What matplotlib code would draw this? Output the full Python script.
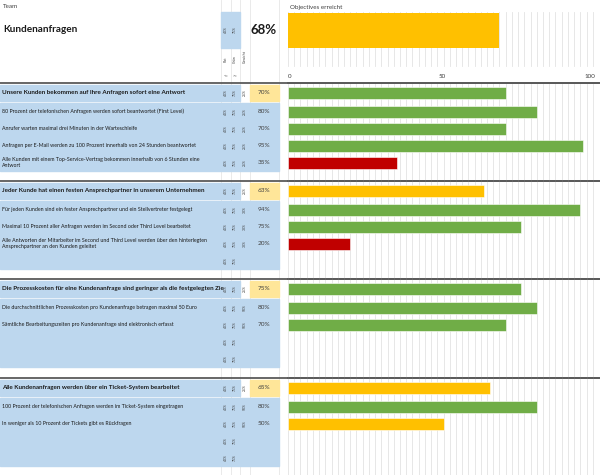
import matplotlib.pyplot as plt
import numpy as np

plt.rcParams['font.family'] = ['Lato', 'DejaVu Sans']

team = "Kundenanfragen"
total = 68
red_limit = "40%"
green_limit = "75%"

group_titles = [
    "Unsere Kunden bekommen auf Ihre Anfragen sofort eine Antwort",
    "Jeder Kunde hat einen festen Ansprechpartner in unserem Unternehmen",
    "Die Prozesskosten für eine Kundenanfrage sind geringer als die festgelegten Zie",
    "Alle Kundenanfragen werden über ein Ticket-System bearbeitet",
]
group_values = [70, 63, 75, 65]
group_status = ["g", "o", "g", "o"]
group_weight = "25%"

item_texts = [
    ["80 Prozent der telefonischen Anfragen werden sofort beantwortet (First Level)",
     "Anrufer warten maximal drei Minuten in der Warteschleife",
     "Anfragen per E-Mail werden zu 100 Prozent innerhalb von 24 Stunden beantwortet",
     "Alle Kunden mit einem Top-Service-Vertrag bekommen innerhalb von 6 Stunden eine\nAntwort"],
    ["Für jeden Kunden sind ein fester Ansprechpartner und ein Stellvertreter festgelegt",
     "Maximal 10 Prozent aller Anfragen werden im Second oder Third Level bearbeitet",
     "Alle Antworten der Mitarbeiter im Second und Third Level werden über den hinterlegten\nAnsprechpartner an den Kunden geleitet"],
    ["Die durchschnittlichen Prozesskosten pro Kundenanfrage betragen maximal 50 Euro",
     "Sämtliche Bearbeitungszeiten pro Kundenanfrage sind elektronisch erfasst"],
    ["100 Prozent der telefonischen Anfragen werden im Ticket-System eingetragen",
     "In weniger als 10 Prozent der Tickets gibt es Rückfragen"],
]
item_values = [[80, 70, 95, 35], [94, 75, 20], [80, 70], [80, 50]]
item_status = [["g", "g", "g", "r"], ["g", "g", "r"], ["g", "g"], ["g", "o"]]
item_weights = ["25%", "33%", "50%", "50%"]
rows_per_group = 4

colors = {"g": "#70AD47", "o": "#FFC000", "r": "#C00000"}
blue = "#BDD7EE"
yellow = "#FFE699"
sep_y = [83, 181, 279, 378]

fig = plt.figure(figsize=(6, 4.75), dpi=100)
bg = fig.add_axes([0, 0, 1, 1])
bg.set_xlim(0, 600)
bg.set_ylim(475, 0)
bg.axis('off')

ax = fig.add_axes([288 / 600, 0, 311 / 600, 1])
ax.set_xlim(0, 100)
ax.set_ylim(475, 0)
ax.axis('off')
ax.patch.set_alpha(0)

# faint cell borders / grid
for x in [221, 230.5, 240, 249.5, 278.5]:
    bg.plot([x, x], [0, 475], color="#E6E6E6", lw=0.6, zorder=0)
for gx in np.arange(0, 101, 2):
    ax.plot([gx, gx], [12, 66], color="#E3E3E3", lw=0.6, zorder=0)
    ax.plot([gx, gx], [84, 475], color="#E3E3E3", lw=0.6, zorder=0)

# header
bg.text(3, 7, "Team", fontsize=4.5, color="#404040", va='center')
bg.text(3, 30, team, fontsize=7.2, fontweight='bold', color="#1a1a1a", va='center')
bg.add_patch(plt.Rectangle((221, 12), 19, 36, color=blue, zorder=1))
small = dict(fontsize=2.5, rotation=90, color="#404040", ha='center', va='center', zorder=3)
bg.text(226, 30, red_limit, **small)
bg.text(235, 30, green_limit, **small)
bg.text(226, 59, "Rot", **small)
bg.text(235, 59, "Grün", **small)
bg.text(245, 57, "Gewicht", **small)
bg.text(226, 75, "<=", fontsize=3, color="#404040", ha='center', va='center')
bg.text(235, 75, ">=", fontsize=3, color="#404040", ha='center', va='center')
bg.text(264, 30, f"{total}%", fontsize=9.5, fontweight='bold', color="#1a1a1a",
        ha='center', va='center')
bg.text(290, 7, "Objectives erreicht", fontsize=4.5, color="#404040", va='center')

ax.barh(30, total, height=35, color=colors["o"], zorder=2)
ax.text(0.5, 76, "0", fontsize=4.5, color="#404040", ha='center', va='center')
ax.text(49.5, 76, "50", fontsize=4.5, color="#404040", ha='center', va='center')
ax.text(97, 76, "100", fontsize=4.5, color="#404040", ha='center', va='center')

for g, s in enumerate(sep_y):
    bg.plot([0, 600], [s, s], color="#5a5a5a", lw=1.3, zorder=4)
    ax.plot([0, 100], [s, s], color="#5a5a5a", lw=1.3, zorder=4, clip_on=False)
    hy = s + 9.5
    hbox = plt.Rectangle((0, s + 1.5), 240, 16, color=blue, zorder=1)
    bg.add_patch(hbox)
    bg.add_patch(plt.Rectangle((250, s + 1.5), 28.5, 16, color=yellow, zorder=1))
    clip = plt.Rectangle((0, s + 1.5), 221, 16, transform=bg.transData)
    t = bg.text(2, hy, group_titles[g], fontsize=4.5, fontweight='bold', color="#1a1a1a",
                va='center', zorder=3)
    t.set_clip_path(clip)
    bg.text(226, hy, red_limit, **small)
    bg.text(235, hy, green_limit, **small)
    bg.text(245, hy, group_weight, **small)
    bg.text(264, hy, f"{group_values[g]}%", fontsize=4.6, color="#404040",
            ha='center', va='center', zorder=3)
    ax.barh(hy, group_values[g], height=12, color=colors[group_status[g]],
            edgecolor="#ffffff", lw=0.4, zorder=2)

    bg.add_patch(plt.Rectangle((0, s + 19.5), 278.5, 17 * rows_per_group, color=blue, zorder=1))
    for i in range(rows_per_group):
        iy = s + 28.5 + 17 * i
        bg.text(226, iy, red_limit, **small)
        bg.text(235, iy, green_limit, **small)
        if i < len(item_texts[g]):
            bg.text(245, iy, item_weights[g], **small)
            bg.text(2, iy, item_texts[g][i], fontsize=3.8, color="#1a1a1a",
                    va='center', zorder=3, linespacing=1.35)
            bg.text(264, iy, f"{item_values[g][i]}%", fontsize=4.6, color="#404040",
                    ha='center', va='center', zorder=3)
            ax.barh(iy, item_values[g][i], height=12, color=colors[item_status[g][i]],
                    edgecolor="#ffffff", lw=0.4, zorder=2)

fig.savefig("out.png", dpi=100)
